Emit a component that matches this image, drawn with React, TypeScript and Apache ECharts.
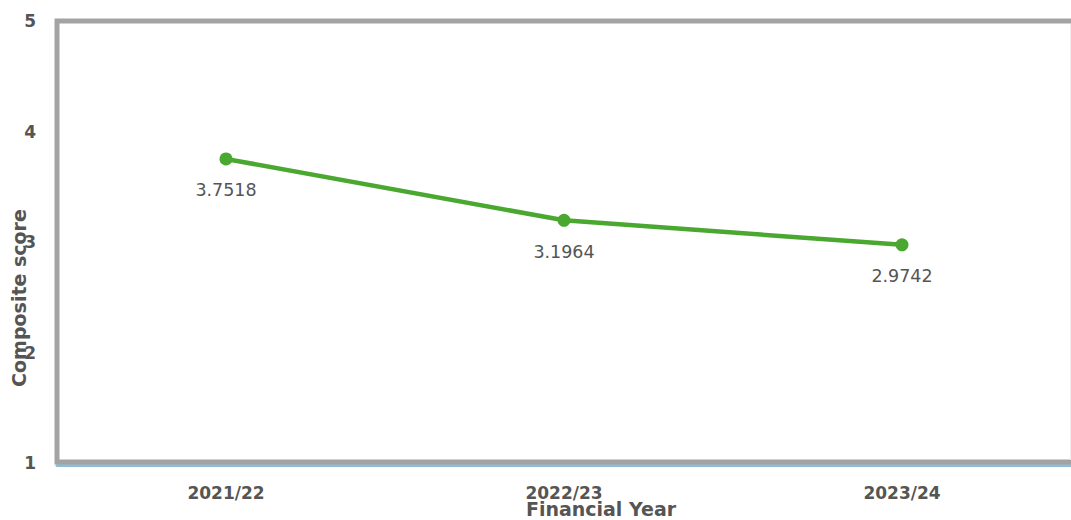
import React, { useEffect, useRef } from "react";
import * as echarts from "echarts";

const categories = ["2021/22", "2022/23", "2023/24"];
const scores = [3.7518, 3.1964, 2.9742];
const yTicks = { min: 1, max: 5, interval: 1 };
const yAxisTitle = "Composite score";
const xAxisTitle = "Financial Year";

export default function App() {
  const ref = useRef<HTMLDivElement>(null);
  useEffect(() => {
    if (!ref.current) return;
    const chart = echarts.init(ref.current, null, { renderer: "svg" });
    const font = "'DejaVu Sans', Verdana, sans-serif";
    chart.setOption({
      animation: false,
      backgroundColor: "#ffffff",
      grid: { left: 57, top: 21, bottom: 57, width: 1019, containLabel: false },
      xAxis: {
        type: "category",
        data: categories,
        boundaryGap: true,
        offset: 2,
        axisLine: { show: true, lineStyle: { color: "#8fbcd6", width: 3 } },
        axisTick: { show: false },
        axisLabel: { margin: 19, color: "#555555", fontSize: 17, fontWeight: "bold", fontFamily: font },
        splitLine: { show: false },
      },
      yAxis: {
        type: "value",
        min: yTicks.min,
        max: yTicks.max,
        interval: yTicks.interval,
        axisLine: { show: false },
        axisTick: { show: false },
        splitLine: { show: false },
        axisLabel: { margin: 21, color: "#555555", fontSize: 17, fontWeight: "bold", fontFamily: font },
      },
      graphic: [
        {
          type: "rect",
          z: 10,
          shape: { x: 57, y: 21, width: 1019, height: 441 },
          style: { fill: "none", stroke: "#a3a3a3", lineWidth: 5 },
        },
        {
          type: "line",
          z: 10,
          shape: { x1: 1070.5, y1: 24, x2: 1070.5, y2: 460 },
          style: { stroke: "#eeeeee", lineWidth: 1 },
        },
        {
          type: "text",
          x: 19,
          y: 298,
          rotation: Math.PI / 2,
          style: {
            text: yAxisTitle,
            fill: "#555555",
            font: `bold 19px ${font}`,
            align: "center",
            verticalAlign: "middle",
          },
        },
        {
          type: "text",
          x: 601,
          y: 509,
          style: {
            text: xAxisTitle,
            fill: "#555555",
            font: `bold 19px ${font}`,
            align: "center",
            verticalAlign: "middle",
          },
        },
      ],
      series: [
        {
          type: "line",
          data: scores,
          z: 20,
          symbol: "circle",
          symbolSize: 13,
          lineStyle: { color: "#4aa831", width: 4.5 },
          itemStyle: { color: "#4aa831" },
          label: {
            show: true,
            position: "bottom",
            distance: 16,
            color: "#555555",
            fontSize: 17.5,
            fontFamily: font,
            formatter: (p: any) => p.value.toFixed(4),
          },
        },
      ],
    });
    return () => chart.dispose();
  }, []);
  return (
    <div
      ref={ref}
      style={{ position: "fixed", left: 0, top: 0, width: 1071, height: 520 }}
    />
  );
}
